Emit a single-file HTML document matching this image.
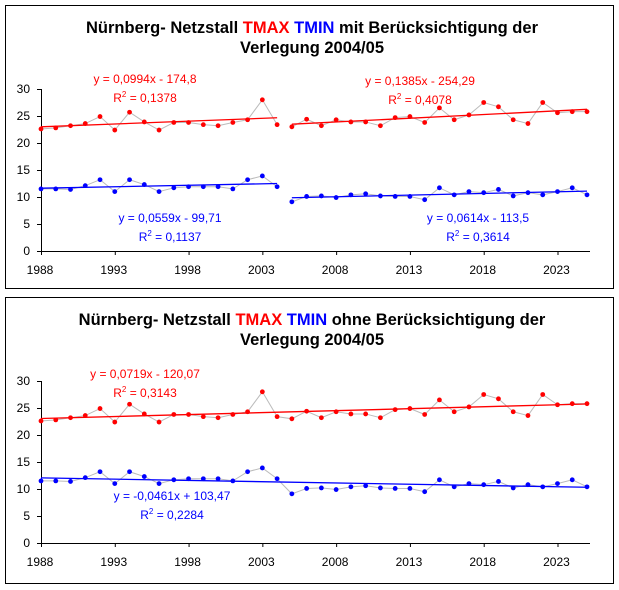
<!DOCTYPE html>
<html><head><meta charset="utf-8"><style>
body{margin:0;background:#fff;font-family:"Liberation Sans",Arial,sans-serif}
svg{display:block}
</style></head><body>
<svg id="c" width="619" height="590" xmlns="http://www.w3.org/2000/svg" font-family="Liberation Sans, Arial, sans-serif"></svg>
<script>
const years = [];
for (let y = 1988; y <= 2025; y++) years.push(y);
const tmax = [22.6,22.8,23.2,23.6,24.9,22.4,25.7,23.9,22.4,23.8,23.8,23.4,23.2,23.8,24.3,28.0,23.4,23.0,24.4,23.2,24.3,23.9,23.9,23.2,24.7,24.9,23.8,26.5,24.3,25.2,27.5,26.7,24.3,23.6,27.5,25.6,25.8,25.8];
const tmin = [11.5,11.5,11.4,12.1,13.2,11.0,13.2,12.3,11.0,11.7,11.9,11.9,11.9,11.5,13.2,13.9,11.9,9.1,10.1,10.2,9.9,10.4,10.6,10.2,10.1,10.1,9.5,11.7,10.4,11.0,10.8,11.4,10.2,10.8,10.4,11.0,11.7,10.4];
const yTicks = [0,5,10,15,20,25,30];
const xTicks = [1988,1993,1998,2003,2008,2013,2018,2023];
const splitYear = 2005;

const svg = document.getElementById('c');
const NS = 'http://www.w3.org/2000/svg';
function mk(tag, at, parent) {
  const e = document.createElementNS(NS, tag);
  for (const k in at) e.setAttribute(k, at[k]);
  (parent || svg).appendChild(e);
  return e;
}
function reg(xs, ys) {
  const n = xs.length; let sx=0, sy=0, sxx=0, sxy=0;
  for (let i=0;i<n;i++){sx+=xs[i];sy+=ys[i];sxx+=xs[i]*xs[i];sxy+=xs[i]*ys[i];}
  const m = (n*sxy - sx*sy)/(n*sxx - sx*sx);
  return {m:m, b:(sy - m*sx)/n};
}
function panel(top, bottomY, split, titleWord, labels, pname) {
  const g = mk('g', {});
  
  
  const box = mk('rect', {x:5.5, y:top+0.5, width:608, height:bottomY-top, fill:'#fff', stroke:'#000'}, g);
  
  
  const x0 = 41, x1 = 587, y0 = top + 246, yTop = top + 84;
  const X = yr => x0 + (yr - 1988) * (x1 - x0) / 37;
  const Y = v => y0 - v * (y0 - yTop) / 30;
  const t1 = mk('text', {x:312, y:top+28, 'text-anchor':'middle', 'font-size':16.5, 'font-weight':'bold'}, g);
  
  
  t1.innerHTML = 'Nürnberg- Netzstall <tspan fill="#f00">TMAX</tspan> <tspan fill="#00f">TMIN</tspan> ' + titleWord + ' Berücksichtigung der';
  const t2 = mk('text', {x:312, y:top+48, 'text-anchor':'middle', 'font-size':16.5, 'font-weight':'bold'}, g);
  
  
  t2.textContent = 'Verlegung 2004/05';
  const ya = mk('line', {x1:x0+0.5, y1:yTop, x2:x0+0.5, y2:y0, stroke:'#000'}, g);
  
  
  const xa = mk('line', {x1:x0, y1:y0+0.5, x2:x1+3, y2:y0+0.5, stroke:'#000'}, g);
  
  
  yTicks.forEach(v => {
    mk('line', {x1:x0-4, y1:Y(v)+0.5, x2:x0, y2:Y(v)+0.5, stroke:'#000'}, g);
    const tl = mk('text', {x:x0-11, y:Y(v)+4, 'text-anchor':'end', 'font-size':12}, g);
    
    
    tl.textContent = v;
  });
  xTicks.forEach(yr => {
    mk('line', {x1:X(yr)+0.5, y1:y0, x2:X(yr)+0.5, y2:y0+4, stroke:'#000'}, g);
    const tl = mk('text', {x:X(yr)-1, y:y0+23, 'text-anchor':'middle', 'font-size':12}, g);
    
    
    tl.textContent = yr;
  });
  const segs = split ? [[1988, split-1],[split, 2025]] : [[1988, 2025]];
  [[tmax,'#f00','tmax'],[tmin,'#00f','tmin']].forEach(([ser,col,nm]) => {
    segs.forEach(([a,b]) => {
      const xs=[], ys=[];
      years.forEach((yr,i)=>{ if(yr>=a && yr<=b){xs.push(yr); ys.push(ser[i]);} });
      const pl = mk('polyline', {points: xs.map((yr,i)=>X(yr)+','+Y(ys[i])).join(' '), fill:'none', stroke:'#bbb', 'stroke-width':1}, g);
      
      
      const r = reg(xs, ys);
      const tr = mk('line', {x1:X(a), y1:Y(r.m*a+r.b), x2:X(b), y2:Y(r.m*b+r.b), stroke:col, 'stroke-width':1.3}, g);
      
      
      xs.forEach((yr,i) => {
        const c = mk('circle', {cx:X(yr), cy:Y(ys[i]), r:2.4, fill:col}, g);
        
        
      });
    });
  });
  labels.forEach(([x,y,txt,col,r2]) => {
    const t = mk('text', {x:x, y:top+y, 'text-anchor':'middle', 'font-size':12, fill:col}, g);
    
    
    t.textContent = txt;
    const t2 = mk('text', {x:x, y:top+y+19, 'text-anchor':'middle', 'font-size':12, fill:col}, g);
    
    
    t2.innerHTML = 'R<tspan dy="-5" font-size="8">2</tspan><tspan dy="5"> = ' + r2 + '</tspan>';
  });
}
panel(5, 288, splitYear, 'mit', [
  [145,78,'y = 0,0994x - 174,8','#f00','0,1378'],
  [420,80,'y = 0,1385x - 254,29','#f00','0,4078'],
  [170,217,'y = 0,0559x - 99,71','#00f','0,1137'],
  [478,217,'y = 0,0614x - 113,5','#00f','0,3614']
], 'panel-with-relocation');
panel(297, 583, null, 'ohne', [
  [145,81,'y = 0,0719x - 120,07','#f00','0,3143'],
  [172,203,'y = -0,0461x + 103,47','#00f','0,2284']
], 'panel-without-relocation');
</script>
</body></html>
